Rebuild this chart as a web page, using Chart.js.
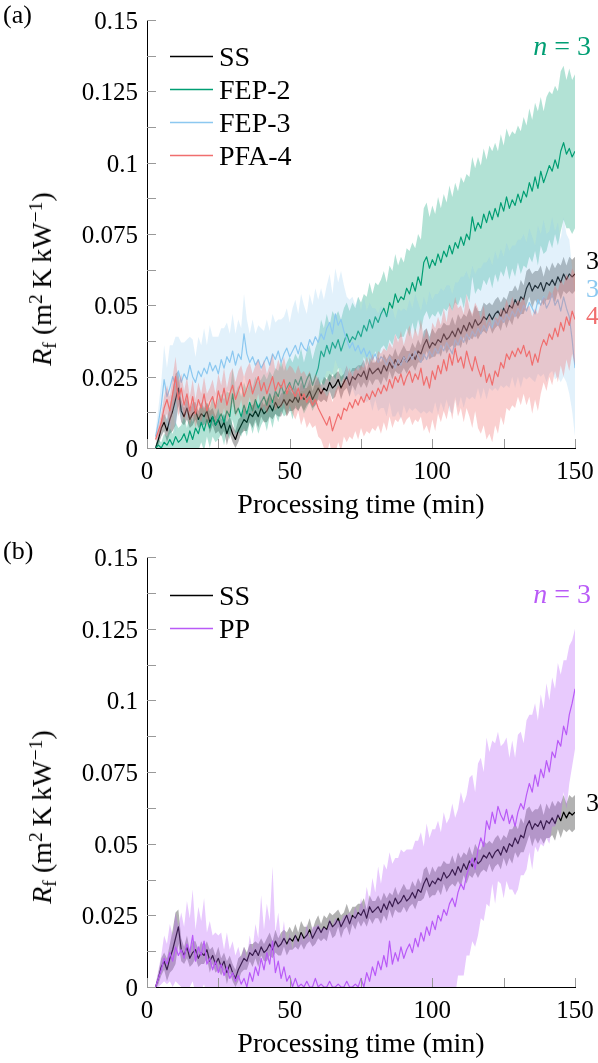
<!DOCTYPE html>
<html>
<head>
<meta charset="utf-8">
<script src="https://cdn.jsdelivr.net/npm/chart.js@4.4.0/dist/chart.umd.min.js"></script>
<style>
  html, body { margin: 0; padding: 0; background: #fff; }
  #page { position: relative; width: 598px; height: 1063px; }
  canvas { position: absolute; left: 0; display: block; }
  #chart-a { top: 0; }
  #chart-b { top: 531px; }
  .txt {
    position: absolute;
    white-space: nowrap;
    line-height: 1;
    font-family: 'Liberation Serif', 'Times New Roman', serif;
    color: #000;
  }
  .txt sub, .txt sup { font-size: 0.7em; line-height: 0; }
  .txt sub { vertical-align: -0.25em; }
  .txt sup { vertical-align: 0.45em; }
</style>
</head>
<body>
<div id="page">
  <canvas id="chart-a" width="598" height="531"></canvas>
  <canvas id="chart-b" width="598" height="532"></canvas>
</div>
<script>
// processing time (min)
const time = [
  3, 4, 5, 6, 7, 8, 9, 10, 11, 12,
  13, 14, 15, 16, 17, 18, 19, 20, 21, 22,
  23, 24, 25, 26, 27, 28, 29, 30, 31, 32,
  33, 34, 35, 36, 37, 38, 39, 40, 41, 42,
  43, 44, 45, 46, 47, 48, 49, 50, 51, 52,
  53, 54, 55, 56, 57, 58, 59, 60, 61, 62,
  63, 64, 65, 66, 67, 68, 69, 70, 71, 72,
  73, 74, 75, 76, 77, 78, 79, 80, 81, 82,
  83, 84, 85, 86, 87, 88, 89, 90, 91, 92,
  93, 94, 95, 96, 97, 98, 99, 100, 101, 102,
  103, 104, 105, 106, 107, 108, 109, 110, 111, 112,
  113, 114, 115, 116, 117, 118, 119, 120, 121, 122,
  123, 124, 125, 126, 127, 128, 129, 130, 131, 132,
  133, 134, 135, 136, 137, 138, 139, 140, 141, 142,
  143, 144, 145, 146, 147, 148, 149, 150
];

// fouling resistance, in 1e-3 m2 K/kW : mean and spread of the n = 3 runs
const ssMean = [
  0, 3, 7, 9, 6, 10, 13, 17, 21, 13,
  11, 14, 10, 12, 13, 10, 12, 11, 13, 9,
  11, 8, 10, 7, 9, 5, 8, 5, 3, 6,
  8, 10, 9, 12, 11, 13, 11, 14, 12, 13,
  15, 13, 16, 14, 15, 17, 15, 17, 16, 18,
  16, 19, 17, 18, 20, 17, 19, 21, 19, 21,
  20, 23, 21, 22, 24, 21, 23, 25, 22, 25,
  24, 26, 25, 27, 24, 28, 26, 27, 28, 26,
  29, 27, 30, 28, 31, 29, 30, 32, 30, 31,
  33, 31, 34, 33, 36, 38, 35, 37, 36, 38,
  37, 40, 38, 39, 41, 39, 42, 40, 43, 41,
  44, 42, 45, 43, 44, 46, 45, 47, 45, 47,
  48, 46, 49, 47, 50, 49, 52, 50, 53, 52,
  56, 58, 55, 57, 56, 58, 55, 58, 57, 59,
  57, 60, 58, 61, 59, 61, 60, 61
];
const ssSd = [
  1, 2, 3, 3, 4, 5, 7, 9, 6, 4,
  3, 4, 3, 4, 3, 3, 4, 3, 3, 4,
  3, 3, 4, 3, 3, 4, 3, 3, 3, 4,
  3, 4, 3, 3, 4, 3, 4, 3, 3, 4,
  4, 3, 4, 3, 4, 3, 4, 4, 3, 4,
  3, 4, 4, 3, 4, 3, 4, 4, 3, 4,
  4, 3, 4, 4, 3, 4, 3, 4, 4, 3,
  4, 3, 4, 4, 3, 4, 4, 3, 4, 4,
  4, 4, 3, 4, 4, 3, 4, 4, 4, 3,
  4, 4, 4, 3, 5, 4, 4, 5, 4, 4,
  5, 4, 5, 4, 5, 4, 5, 5, 4, 5,
  5, 4, 5, 5, 4, 5, 5, 4, 5, 5,
  5, 5, 4, 5, 5, 6, 5, 5, 6, 5,
  6, 5, 6, 5, 6, 6, 5, 6, 5, 6,
  6, 5, 6, 6, 5, 6, 6, 6
];

const fep2Mean = [
  0, 1, 0, 2, 1, 3, 1, 4, 2, 3,
  5, 2, 6, 3, 7, 5, 9, 6, 10, 7,
  11, 8, 10, 12, 9, 13, 11, 19, 12, 14,
  11, 15, 12, 16, 13, 17, 14, 16, 18, 15,
  19, 16, 20, 18, 22, 19, 21, 23, 20, 24,
  22, 25, 21, 24, 26, 22, 25, 28, 34, 32,
  36, 33, 37, 35, 38, 34, 37, 40, 37, 39,
  38, 41, 39, 43, 41, 45, 42, 46, 44, 47,
  49, 46, 51, 49, 54, 51, 53, 52, 56, 54,
  58, 55, 60, 57, 65, 67, 63, 66, 64, 68,
  65, 69, 67, 71, 68, 72, 70, 74, 71, 75,
  73, 81, 76, 79, 77, 82, 79, 83, 80, 84,
  81, 86, 83, 88, 84, 87, 85, 89, 86, 90,
  88, 93, 90, 95, 91, 97, 93, 96, 99, 97,
  101, 98, 104, 107, 103, 105, 102, 104
];
const fep2Sd = [
  1, 2, 2, 3, 3, 4, 4, 5, 5, 5,
  6, 5, 6, 6, 7, 6, 7, 7, 6, 7,
  7, 6, 7, 7, 8, 7, 8, 9, 7, 8,
  7, 8, 8, 7, 8, 8, 9, 8, 8, 9,
  8, 9, 8, 9, 9, 8, 9, 9, 10, 9,
  9, 10, 9, 10, 10, 9, 10, 10, 11, 10,
  11, 10, 11, 11, 10, 11, 12, 11, 11, 12,
  11, 12, 12, 11, 12, 13, 12, 12, 13, 12,
  13, 12, 13, 13, 14, 13, 14, 13, 14, 15,
  14, 15, 15, 16, 19, 19, 18, 19, 18, 20,
  19, 20, 19, 21, 20, 21, 20, 21, 22, 21,
  22, 21, 22, 23, 22, 23, 22, 23, 24, 23,
  23, 24, 23, 24, 25, 24, 25, 24, 25, 26,
  25, 26, 25, 26, 27, 26, 25, 27, 26, 27,
  26, 27, 28, 27, 26, 28, 27, 27
];

const fep3Mean = [
  4, 9, 15, 24, 18, 21, 25, 22, 27, 23,
  26, 24, 29, 25, 23, 27, 25, 28, 26, 30,
  27, 29, 26, 31, 28, 32, 30, 34, 29, 33,
  31, 40, 33, 30, 32, 29, 31, 28, 30, 32,
  29, 33, 31, 34, 30, 33, 35, 32, 34, 36,
  33, 37, 35, 34, 38, 36, 39, 37, 40, 38,
  42, 44, 40, 47, 43, 45, 41, 38, 35, 37,
  34, 36, 33, 35, 32, 34, 31, 33, 30, 32,
  31, 29, 32, 30, 28, 31, 29, 32, 30, 33,
  31, 34, 32, 30, 33, 31, 34, 32, 35, 33,
  36, 34, 37, 35, 33, 38, 36, 39, 37, 40,
  38, 41, 39, 42, 40, 43, 41, 44, 42, 45,
  43, 46, 44, 47, 45, 48, 46, 49, 47, 50,
  48, 51, 49, 47, 52, 50, 53, 49, 51, 54,
  50, 52, 48, 53, 49, 46, 38, 28
];
const fep3Sd = [
  2, 5, 8, 12, 10, 15, 11, 17, 12, 14,
  11, 14, 10, 13, 9, 12, 11, 14, 10, 13,
  12, 10, 13, 11, 14, 12, 10, 13, 11, 12,
  11, 14, 12, 10, 13, 11, 12, 14, 11, 13,
  12, 14, 13, 11, 15, 13, 14, 12, 15, 16,
  14, 17, 15, 13, 16, 14, 17, 15, 16, 14,
  15, 17, 14, 16, 15, 17, 16, 15, 17, 16,
  16, 17, 15, 18, 16, 17, 18, 16, 17, 18,
  17, 18, 16, 19, 17, 18, 19, 17, 18, 19,
  18, 20, 19, 18, 20, 19, 21, 20, 19, 21,
  20, 21, 20, 22, 21, 20, 22, 21, 23, 22,
  21, 23, 22, 21, 23, 22, 24, 23, 22, 24,
  23, 24, 23, 25, 24, 23, 25, 24, 26, 25,
  24, 26, 25, 24, 26, 25, 27, 26, 25, 27,
  26, 27, 25, 28, 26, 27, 25, 24
];

const pfa4Mean = [
  3, 6, 9, 14, 17, 13, 19, 25, 17, 21,
  15, 19, 13, 18, 12, 17, 14, 19, 13, 16,
  18, 14, 20, 16, 21, 15, 19, 22, 17, 20,
  23, 18, 21, 24, 19, 22, 25, 20, 23, 19,
  22, 25, 20, 23, 21, 24, 19, 22, 20, 18,
  21, 17, 19, 16, 18, 15, 17, 14, 12, 10,
  8, 11, 6, 9, 12, 10, 14, 13, 16, 14,
  17, 15, 18, 16, 19, 17, 20, 18, 21, 19,
  22, 20, 24, 21, 25, 23, 26, 22, 25, 27,
  23, 26, 24, 28, 22, 25, 21, 27, 24, 29,
  26, 31, 27, 33, 29, 35, 30, 32, 28, 34,
  30, 27, 32, 28, 25, 29, 23, 26, 22, 27,
  25, 30, 28, 33, 31, 34, 32, 35, 33, 36,
  32, 34, 29, 33, 30, 35, 38, 36, 40, 38,
  42, 39, 44, 41, 46, 43, 48, 45
];
const pfa4Sd = [
  1, 2, 3, 4, 5, 5, 6, 7, 6, 5,
  5, 6, 5, 6, 5, 6, 5, 6, 6, 5,
  6, 5, 6, 6, 7, 6, 7, 6, 6, 7,
  6, 7, 7, 6, 7, 7, 6, 7, 8, 7,
  7, 8, 7, 8, 7, 8, 8, 7, 8, 8,
  8, 9, 8, 9, 9, 8, 9, 10, 9, 10,
  10, 9, 10, 11, 10, 11, 10, 11, 12, 11,
  11, 12, 11, 12, 13, 12, 13, 12, 13, 14,
  13, 14, 13, 14, 15, 14, 15, 14, 15, 16,
  15, 16, 15, 17, 16, 17, 16, 17, 18, 17,
  17, 18, 17, 18, 19, 18, 19, 18, 19, 20,
  19, 20, 19, 21, 20, 21, 20, 21, 20, 19,
  20, 19, 20, 19, 18, 19, 18, 17, 18, 17,
  17, 16, 17, 16, 17, 16, 15, 16, 15, 16,
  15, 16, 15, 16, 15, 16, 15, 16
];

const ppMean = [
  0, 3, 6, 10, 8, 12, 9, 14, 11, 13,
  10, 15, 12, 18, 9, 14, 11, 16, 8, 10,
  6, 9, 5, 8, 4, 7, 3, 5, 2, 4,
  1, 3, 0, 5, 2, 7, 4, 10, 6, 12,
  8, 16, 5, 9, 3, 7, 2, 4, 0, 3,
  0, 1, 0, 2, 0, 0, 3, 0, 1, 0,
  0, 2, 0, 0, 1, 0, 0, 2, 0, 0,
  1, 0, 3, 0, 5, 2, 7, 4, 9, 6,
  11, 7, 16, 8, 12, 9, 14, 10, 13, 15,
  12, 17, 14, 19, 16, 21, 18, 23, 20, 25,
  23, 27, 25, 29, 31, 28, 33, 36, 34, 39,
  42, 45, 41, 48, 52, 49, 58, 55, 61, 57,
  63, 60, 58, 62, 57, 60, 56, 61, 64, 62,
  67, 71, 68, 74, 70, 76, 73, 79, 75, 82,
  80, 86, 84, 91, 88, 95, 99, 104
];
const ppSd = [
  1, 3, 5, 8, 7, 10, 9, 12, 10, 13,
  11, 15, 12, 16, 11, 14, 12, 15, 11, 13,
  12, 10, 13, 11, 9, 12, 10, 11, 9, 10,
  9, 11, 10, 13, 11, 15, 13, 22, 14, 17,
  15, 26, 14, 17, 13, 16, 12, 15, 13, 16,
  15, 18, 16, 20, 17, 21, 18, 22, 19, 21,
  20, 22, 21, 24, 22, 23, 25, 23, 26, 24,
  27, 25, 28, 27, 30, 28, 31, 29, 33, 30,
  32, 34, 31, 35, 33, 36, 34, 37, 35, 33,
  36, 34, 37, 35, 33, 36, 34, 32, 35, 33,
  31, 34, 32, 30, 33, 31, 29, 32, 30, 28,
  31, 29, 27, 30, 28, 26, 29, 27, 25, 28,
  26, 24, 27, 25, 23, 26, 24, 27, 25, 23,
  26, 24, 27, 25, 23, 26, 24, 27, 25, 26,
  24, 27, 25, 23, 26, 24, 22, 21
];

const seriesA = [
  { name: 'SS', mean: ssMean, sd: ssSd, color: '#000000', band: 'rgba(0,0,0,0.3)' },
  { name: 'FEP-2', mean: fep2Mean, sd: fep2Sd, color: '#009e73', band: 'rgba(0,158,115,0.3)' },
  { name: 'FEP-3', mean: fep3Mean, sd: fep3Sd, color: '#8cc8f0', band: 'rgba(140,200,240,0.25)' },
  { name: 'PFA-4', mean: pfa4Mean, sd: pfa4Sd, color: '#f06e6e', band: 'rgba(240,110,110,0.32)' },
];
const seriesB = [
  { name: 'SS', mean: ssMean, sd: ssSd, color: '#000000', band: 'rgba(0,0,0,0.3)' },
  { name: 'PP', mean: ppMean, sd: ppSd, color: '#b95af7', band: 'rgba(185,90,250,0.32)' },
];

const page = document.getElementById('page');

function points(mean, sd, sign) {
  return time.map((t, i) => ({ x: t, y: (mean[i] + sign * sd[i]) / 1000 }));
}

function fmtY(v) {
  return String(Math.round(v * 1000) / 1000);
}

// text is laid out as html on top of the canvases
function put(html, x, y, size, ax, color) {
  const el = document.createElement('div');
  el.className = 'txt';
  el.innerHTML = html;
  el.style.left = x + 'px';
  el.style.top = y + 'px';
  el.style.fontSize = size + 'px';
  el.style.transform = `translate(${ax}, -50%)`;
  if (color) el.style.color = color;
  page.appendChild(el);
  return el;
}

// inward grey tick marks and legend samples
const marks = {
  id: 'marks',
  afterDatasetsDraw(chart, args, opts) {
    const { ctx, chartArea: a, scales: { x, y } } = chart;
    ctx.save();
    ctx.strokeStyle = '#999';
    ctx.lineWidth = 1;
    ctx.beginPath();
    y.ticks.forEach(t => {
      const py = Math.round(y.getPixelForValue(t.value)) + 0.5;
      ctx.moveTo(a.left, py);
      ctx.lineTo(a.left + 9, py);
    });
    x.ticks.forEach(t => {
      const px = Math.round(x.getPixelForValue(t.value)) + 0.5;
      ctx.moveTo(px, a.bottom);
      ctx.lineTo(px, a.bottom - 9);
    });
    ctx.stroke();
    ctx.lineWidth = 1.3;
    opts.legend.forEach((s, i) => {
      const ly = Math.round(a.top + opts.legendY + i * 33) + 0.5;
      ctx.strokeStyle = s.color;
      ctx.beginPath();
      ctx.moveTo(a.left + 23, ly);
      ctx.lineTo(a.left + 66, ly);
      ctx.stroke();
    });
    ctx.restore();
  }
};

function buildChart(id, series, cfg) {
  const datasets = [];
  series.forEach((s, j) => {
    const base = (series.length - 1 - j) * 3;
    datasets.push(
      { label: s.name + ' lower', data: points(s.mean, s.sd, -1), borderColor: 'rgba(0,0,0,0)', borderWidth: 0, fill: false, order: base + 2 },
      { label: s.name + ' upper', data: points(s.mean, s.sd, 1), borderColor: 'rgba(0,0,0,0)', borderWidth: 0, backgroundColor: s.band, fill: '-1', order: base + 1 },
      { label: s.name, data: points(s.mean, s.sd, 0), borderColor: s.color, borderWidth: 1.2, fill: false, order: base }
    );
  });

  const chart = new Chart(document.getElementById(id), {
    type: 'line',
    data: { datasets },
    options: {
      responsive: false,
      animation: false,
      devicePixelRatio: 1,
      events: [],
      layout: { padding: { left: 0, right: 23, top: cfg.top, bottom: 0 } },
      elements: {
        point: { radius: 0 },
        line: { tension: 0, borderJoinStyle: 'round' }
      },
      scales: {
        x: {
          type: 'linear',
          min: 0,
          max: 150,
          border: { display: true, color: '#000', width: 1 },
          grid: { display: false, drawTicks: false },
          ticks: { display: false, stepSize: 25, autoSkip: false },
          afterFit: s => { s.height = cfg.xHeight; }
        },
        y: {
          min: 0,
          max: 0.15,
          border: { display: true, color: '#000', width: 1 },
          grid: { display: false, drawTicks: false },
          ticks: { display: false, stepSize: 0.0125, autoSkip: false },
          afterFit: s => { s.width = 147; }
        }
      },
      plugins: {
        legend: { display: false },
        tooltip: { enabled: false },
        filler: { drawTime: 'beforeDatasetDraw' },
        marks: { legend: series, legendY: cfg.legendY }
      }
    },
    plugins: [marks]
  });

  // texts, placed from the chart's own scales
  const off = cfg.offset;
  const a = chart.chartArea;
  const xs = chart.scales.x;
  const ys = chart.scales.y;
  ys.ticks.forEach((t, i) => {
    if (i % 2 === 0) put(fmtY(t.value), a.left - 9, off + ys.getPixelForValue(t.value), 25, '-100%');
  });
  xs.ticks.forEach(t => {
    if (t.value % 50 === 0) put(String(t.value), xs.getPixelForValue(t.value), off + a.bottom + 22, 25, '-50%');
  });
  put('Processing time (min)', (a.left + a.right) / 2, off + a.bottom + 56, 28, '-50%');
  const yt = put('<i>R</i><sub>f</sub> (m<sup>2</sup>&#8201;K&#8201;kW<sup>&minus;1</sup>)',
    42, off + (a.top + a.bottom) / 2 + 45, 28, '-50%');
  yt.style.transform = 'translate(-50%, -50%) rotate(-90deg)';
  put(cfg.panel, 3, off + cfg.panelY, 26, '0');
  series.forEach((s, i) => {
    put(s.name, a.left + 72, off + a.top + cfg.legendY + i * 33 + 1, 28, '0');
  });
  put('<i>n</i> = 3', 591, off + cfg.nY, 28, '-100%', cfg.nColor);
  cfg.ends.forEach(e => {
    put(e.text, a.right + 11, off + ys.getPixelForValue(e.at), 26, '0', e.color);
  });
  return chart;
}

buildChart('chart-a', seriesA, {
  offset: 0,
  top: 20,
  xHeight: 83,
  panel: '(a)', panelY: 15,
  legendY: 36,
  nColor: '#009e73', nY: 46,
  ends: [
    { text: '3', color: '#000', at: 0.0655 },
    { text: '3', color: '#8cc8f0', at: 0.0557 },
    { text: '4', color: '#f06e6e', at: 0.0463 }
  ]
});

buildChart('chart-b', seriesB, {
  offset: 531,
  top: 26,
  xHeight: 76,
  panel: '(b)', panelY: 20,
  legendY: 38,
  nColor: '#b95af7', nY: 63,
  ends: [
    { text: '3', color: '#000', at: 0.0642 }
  ]
});
</script>
</body>
</html>
